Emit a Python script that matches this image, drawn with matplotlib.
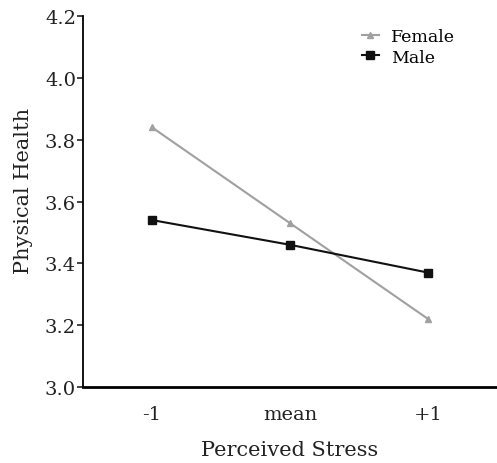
import matplotlib.pyplot as plt
import numpy as np

plt.rcParams['font.family'] = ['DejaVu Serif']

# Perceived stress levels and predicted physical health
stress_labels = ['-1', 'mean', '+1']
female_health = [3.84, 3.53, 3.22]
male_health = [3.54, 3.46, 3.37]
y_ticks = [3.0, 3.2, 3.4, 3.6, 3.8, 4.0, 4.2]

fig = plt.figure(figsize=(4.97, 4.64), dpi=100)
ax = fig.add_axes([0.167, 0.164, 0.833, 0.799])

x = np.arange(len(stress_labels))
ax.plot(x, female_health, color='#a0a0a0', lw=1.5, marker='^', ms=5, label='Female')
ax.plot(x, male_health, color='#111111', lw=1.5, marker='s', ms=6, label='Male')

ax.set_xlim(-0.5, 2.5)
ax.set_ylim(3.0, 4.2)
ax.set_xticks(x)
ax.set_xticklabels(stress_labels)
ax.set_yticks(y_ticks)
ax.set_yticklabels(['%.1f' % v for v in y_ticks])
ax.tick_params(axis='x', length=0, pad=13, labelsize=14, colors='#222222')
ax.tick_params(axis='y', length=4, width=1.2, pad=1, labelsize=14, colors='#222222')

for side in ['top', 'right']:
    ax.spines[side].set_visible(False)
ax.spines['left'].set_linewidth(1.3)
ax.spines['bottom'].set_linewidth(2)

ax.set_xlabel('Perceived Stress', fontsize=15, labelpad=12, color='#222222')
ax.set_ylabel('Physical Health', fontsize=15, color='#222222')
ax.yaxis.set_label_coords(-0.12, 0.53)

ax.legend(loc='upper right', bbox_to_anchor=(0.937, 1.01), frameon=False,
          fontsize=12.5, handlelength=1.0, handletextpad=0.7, labelspacing=0.2)

fig.savefig('out.png', dpi=100)
